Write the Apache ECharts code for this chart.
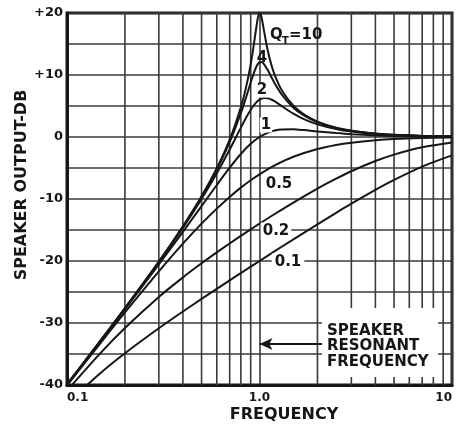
<!DOCTYPE html>
<html>
<head>
<meta charset="utf-8">
<script src="https://cdn.jsdelivr.net/npm/echarts@6/dist/echarts.min.js"></script>
<style>
html,body{margin:0;padding:0;background:#fff;}
#c{width:462px;height:425px;}
</style>
</head>
<body>
<div id="c"></div>
<script>
// Frequencies (relative to resonance) and response (dB)
const freqHigh = [0.1,0.15,0.2,0.3,0.4,0.5,0.6,0.7,0.8,0.85,0.9,0.93,0.96,0.98,1.0,1.02,1.05,1.1,1.15,1.2,1.3,1.5,1.7,2,2.5,3,4,5,7,10];
const q10 = [-39.91,-32.76,-27.61,-20.10,-14.41,-9.56,-5.04,-0.43,4.79,7.92,11.72,14.44,17.43,19.17,20.00,19.54,17.52,14.16,11.74,9.99,7.63,5.04,3.65,2.48,1.51,1.02,0.56,0.35,0.18,0.09];
const q4  = [-39.92,-32.77,-27.62,-20.13,-14.47,-9.66,-5.23,-0.83,3.83,6.31,8.79,10.15,11.25,11.75,12.04,12.11,11.85,10.87,9.72,8.64,6.91,4.73,3.48,2.38,1.45,0.99,0.54,0.34,0.17,0.08];
const q2  = [-39.92,-32.79,-27.65,-20.22,-14.65,-10.00,-5.86,-2.02,1.51,3.07,4.39,5.04,5.55,5.82,6.02,6.17,6.28,6.26,6.05,5.74,5.02,3.77,2.89,2.04,1.28,0.87,0.48,0.31,0.16,0.08];

const freqQ1 = [0.1,0.15,0.2,0.3,0.4,0.5,0.6,0.7,0.8,0.9,1.0,1.1,1.2,1.3,1.5,1.7,2,2.5,3,4,5,7,10];
const q1  = [-39.96,-32.86,-27.79,-20.55,-15.29,-11.14,-7.74,-4.95,-2.74,-1.10,0,0.67,1.04,1.20,1.23,1.11,0.90,0.63,0.45,0.26,0.17,0.09,0.04];

const freqLow = [0.1,0.15,0.2,0.3,0.4,0.5,0.6,0.7,0.8,0.9,1,1.2,1.5,2,2.5,3,4,5,7,10];
const q05 = [-40.09,-33.15,-28.30,-21.67,-17.21,-13.98,-11.55,-9.66,-8.17,-6.98,-6.02,-4.58,-3.19,-1.94,-1.29,-0.92,-0.53,-0.34,-0.18,-0.09];
const q02 = [-40.90,-34.77,-30.80,-25.80,-22.65,-20.37,-18.61,-17.17,-15.95,-14.90,-13.98,-12.42,-10.58,-8.33,-6.73,-5.52,-3.88,-2.84,-1.67,-0.90];
const q01 = [-42.97,-38.02,-34.88,-30.85,-28.15,-26.12,-24.49,-23.12,-21.95,-20.92,-20.00,-18.42,-16.51,-14.08,-12.23,-10.76,-8.53,-6.92,-4.77,-2.97];

// Minor vertical grid lines on the log axis
const minorFreqs = [0.2,0.3,0.4,0.5,0.6,0.7,0.8,0.9,2,3,4,5,6,7,8,9];
const yRange = [-40, 20];
// Resonance arrow (frequency range, level in dB)
const arrowFreqs = [1.0, 2.15];
const arrowLevel = -33.4;

const FONT = '"DejaVu Sans", "Liberation Sans", sans-serif';
const INK = '#161616';
const GRIDC = '#3a3a3a';

function zip(xs, ys){ return xs.map((x,i)=>[x, ys[i]]); }

function curve(name, xs, ys){
  return {
    name: name, type: 'line', data: zip(xs, ys),
    showSymbol: false, smooth: 0.3,
    lineStyle: {color: INK, width: 2}, z: 5, silent: true, animation: false, clip: true
  };
}

const gridSeries = minorFreqs.map(f => ({
  type: 'line', data: [[f, yRange[0]], [f, yRange[1]]], showSymbol: false, silent: true, animation: false,
  lineStyle: {color: GRIDC, width: 1.6}, z: 1
}));

const chart = echarts.init(document.getElementById('c'), null, {renderer: 'canvas'});
const option = {
  animation: false,
  grid: {left: 67, right: 10, top: 13, bottom: 40, show: true, borderColor: INK, borderWidth: 3, backgroundColor: 'transparent'},
  xAxis: {
    type: 'log', logBase: 10, min: 0.1, max: 10,
    axisLine: {show: true, onZero: false, lineStyle: {color: INK, width: 3}},
    axisTick: {show: false},
    splitLine: {show: true, lineStyle: {color: GRIDC, width: 1.6}},
    axisLabel: {
      color: INK, fontFamily: FONT, fontWeight: 'bold', fontSize: 12, margin: 7,
      alignMinLabel: 'left', alignMaxLabel: 'right',
      formatter: function(v){ const e = Math.round(Math.log10(v)); return e < 0 ? '0.1' : (e === 0 ? '1.0' : '10'); }
    }
  },
  yAxis: {
    type: 'value', min: -40, max: 20, interval: 5,
    axisLine: {show: true, onZero: false, lineStyle: {color: INK, width: 3}},
    axisTick: {show: false},
    splitLine: {show: true, lineStyle: {color: GRIDC, width: 1.6}},
    axisLabel: {
      color: INK, fontFamily: FONT, fontWeight: 'bold', fontSize: 13, margin: 4,
      formatter: function(v){ if (v % 10 !== 0) return ''; return v > 0 ? '+' + v : String(v); }
    }
  },
  series: gridSeries.concat([
    curve('Q=10', freqHigh, q10),
    curve('Q=4', freqHigh, q4),
    curve('Q=2', freqHigh, q2),
    curve('Q=1', freqQ1, q1),
    curve('Q=0.5', freqLow, q05),
    curve('Q=0.2', freqLow, q02),
    curve('Q=0.1', freqLow, q01),
    {
      name: 'arrow', type: 'line', data: [], z: 6, silent: true, animation: false,
      markLine: {
        silent: true, animation: false, symbol: ['arrow','none'], symbolSize: [9, 13],
        label: {show: false},
        lineStyle: {color: INK, width: 2, type: 'solid'},
        data: [[{coord: [arrowFreqs[0], arrowLevel]}, {coord: [arrowFreqs[1], arrowLevel]}]]
      }
    }
  ]),
  graphic: [
    // white box behind the annotation
    {type: 'rect', z: 100, shape: {x: 322, y: 308, width: 116, height: 69}, style: {fill: '#fff'}},
    {type: 'text', z: 101, style: {x: 327, y: 323, text: 'SPEAKER\nRESONANT\nFREQUENCY', font: 'bold 15px ' + FONT, fill: INK, lineHeight: 15.5, align: 'left', verticalAlign: 'top'}},
    // curve labels
    {type: 'text', z: 101, style: {x: 270, y: 35, text: 'Q', font: 'bold 15px ' + FONT, fill: INK, align: 'left', verticalAlign: 'middle'}},
    {type: 'text', z: 101, style: {x: 282, y: 41, text: 'T', font: 'bold 10px ' + FONT, fill: INK, align: 'left', verticalAlign: 'middle'}},
    {type: 'text', z: 101, style: {x: 289, y: 35, text: '=10', font: 'bold 15px ' + FONT, fill: INK, align: 'left', verticalAlign: 'middle'}},
    {type: 'text', z: 101, style: {x: 262, y: 58, text: '4', font: 'bold 15px ' + FONT, fill: INK, align: 'center', verticalAlign: 'middle'}},
    {type: 'text', z: 101, style: {x: 262, y: 90, text: '2', font: 'bold 15px ' + FONT, fill: INK, align: 'center', verticalAlign: 'middle', backgroundColor: '#fff', padding: [0,1]}},
    {type: 'text', z: 101, style: {x: 266, y: 125, text: '1', font: 'bold 15px ' + FONT, fill: INK, align: 'center', verticalAlign: 'middle', backgroundColor: '#fff', padding: [0,1]}},
    {type: 'text', z: 101, style: {x: 279, y: 184, text: '0.5', font: 'bold 15px ' + FONT, fill: INK, align: 'center', verticalAlign: 'middle', backgroundColor: '#fff', padding: [1,2]}},
    {type: 'text', z: 101, style: {x: 276, y: 231, text: '0.2', font: 'bold 15px ' + FONT, fill: INK, align: 'center', verticalAlign: 'middle', backgroundColor: '#fff', padding: [1,2]}},
    {type: 'text', z: 101, style: {x: 288, y: 262, text: '0.1', font: 'bold 15px ' + FONT, fill: INK, align: 'center', verticalAlign: 'middle', backgroundColor: '#fff', padding: [1,3]}},
    // axis titles
    {type: 'text', z: 101, x: 22, y: 185, rotation: Math.PI/2, style: {x: 0, y: 0, text: 'SPEAKER OUTPUT-DB', font: 'bold 16px ' + FONT, fill: INK, align: 'center', verticalAlign: 'middle'}},
    {type: 'text', z: 101, style: {x: 284, y: 415, text: 'FREQUENCY', font: 'bold 16px ' + FONT, fill: INK, align: 'center', verticalAlign: 'middle'}}
  ]
};
chart.setOption(option);
</script>
</body>
</html>
